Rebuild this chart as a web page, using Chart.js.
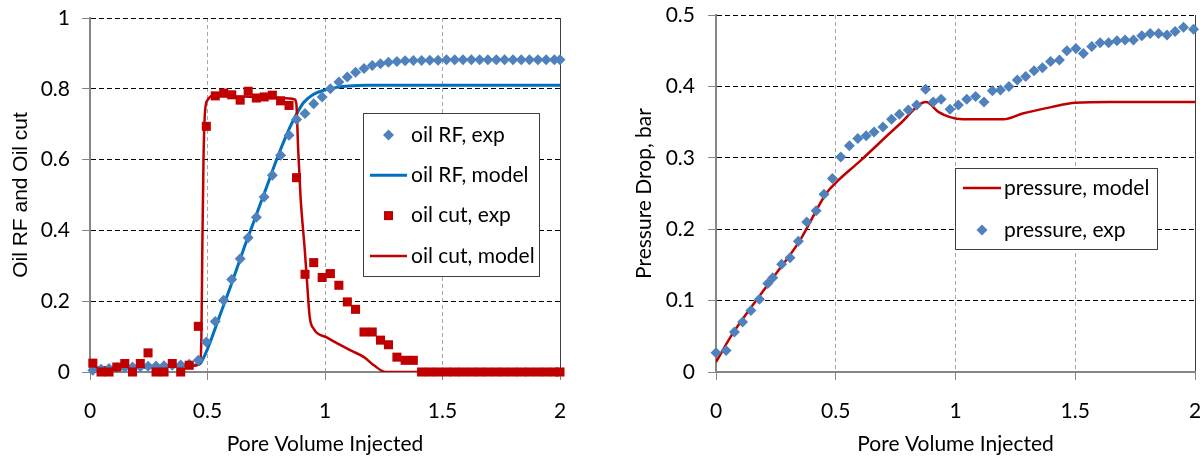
<!DOCTYPE html>
<html>
<head>
<meta charset="utf-8">
<script src="https://cdn.jsdelivr.net/npm/chart.js@4.4.1/dist/chart.umd.min.js"></script>
<style>
  html, body { margin: 0; padding: 0; background: #fff; }
  #wrap { position: relative; width: 1203px; height: 457px; overflow: hidden; }
  canvas { position: absolute; top: 0; }
  #left { left: 0; }
  #right { left: 600px; }
</style>
</head>
<body>
<div id="wrap">
  <canvas id="left" width="600" height="457"></canvas>
  <canvas id="right" width="603" height="457"></canvas>
</div>
<script>
// ---- left chart: oil recovery factor and oil cut ----
const pvExp = [0.012, 0.047, 0.081, 0.114, 0.148, 0.181, 0.214, 0.247, 0.281, 0.315, 0.350, 0.386, 0.422,
  0.461, 0.495, 0.533, 0.569, 0.603, 0.639, 0.673, 0.708, 0.741, 0.776, 0.811, 0.847, 0.879,
  0.915, 0.952, 0.988, 1.023, 1.059, 1.095, 1.130, 1.166, 1.201, 1.236, 1.270, 1.306, 1.341, 1.376,
  1.411, 1.446, 1.481, 1.517, 1.552, 1.587, 1.623, 1.658, 1.693, 1.729, 1.764, 1.800, 1.835, 1.870, 1.906, 1.941, 1.976, 2.000];
const rfExp = [0.005, 0.008, 0.010, 0.012, 0.013, 0.014, 0.015, 0.016, 0.017, 0.018, 0.019, 0.020, 0.022,
  0.033, 0.085, 0.143, 0.203, 0.261, 0.320, 0.379, 0.437, 0.494, 0.556, 0.612, 0.669, 0.713,
  0.730, 0.758, 0.777, 0.800, 0.819, 0.833, 0.847, 0.857, 0.866, 0.871, 0.875, 0.877, 0.879, 0.880,
  0.880, 0.881, 0.881, 0.882, 0.882, 0.882, 0.882, 0.882, 0.882, 0.882, 0.882, 0.882, 0.882, 0.882, 0.882, 0.882, 0.882, 0.882];
const cutExp = [0.025, 0.0, 0.0, 0.014, 0.024, 0.0, 0.024, 0.054, 0.0, 0.0, 0.024, 0.0, 0.019,
  0.129, 0.694, 0.780, 0.788, 0.783, 0.768, 0.793, 0.774, 0.777, 0.782, 0.766, 0.753, 0.549,
  0.276, 0.309, 0.267, 0.278, 0.245, 0.198, 0.177, 0.113, 0.113, 0.090, 0.077, 0.042, 0.033, 0.033,
  0, 0, 0, 0, 0, 0, 0, 0, 0, 0, 0, 0, 0, 0, 0, 0, 0, 0];

const pvRfModel = [0, 0.1, 0.2, 0.3, 0.4, 0.45, 0.47, 0.49, 0.5, 0.55, 0.6, 0.65, 0.7, 0.75, 0.8, 0.85,
  0.88, 0.91, 0.95, 1.0, 1.05, 1.1, 1.18, 1.5, 2.0];
const rfModel = [0.0, 0.008, 0.012, 0.015, 0.018, 0.02, 0.025, 0.05, 0.065, 0.155, 0.245, 0.34, 0.43, 0.52, 0.61, 0.69,
  0.73, 0.762, 0.784, 0.797, 0.804, 0.808, 0.81, 0.81, 0.81];

const pvCutModel = [0, 0.2, 0.44, 0.468, 0.474, 0.478, 0.483, 0.49, 0.5, 0.52, 0.7, 0.86, 0.87, 0.878,
  0.886, 0.896, 0.914, 0.924, 0.935, 0.952, 1.009, 1.109, 1.166, 1.208, 1.258, 2.0];
const cutModel = [0.012, 0.015, 0.018, 0.025, 0.1, 0.35, 0.6, 0.74, 0.768, 0.78, 0.777, 0.772, 0.77, 0.758,
  0.626, 0.494, 0.344, 0.25, 0.155, 0.122, 0.097, 0.061, 0.042, 0.019, 0, 0];

// ---- right chart: pressure drop ----
const pvPress = [0.0, 0.042, 0.077, 0.111, 0.146, 0.181, 0.216, 0.237, 0.274, 0.309,
  0.344, 0.379, 0.418, 0.451, 0.486, 0.521, 0.557, 0.592, 0.627, 0.660,
  0.697, 0.733, 0.766, 0.803, 0.838, 0.875, 0.907, 0.940, 0.977, 1.012,
  1.047, 1.084, 1.119, 1.154, 1.188, 1.223, 1.258, 1.293, 1.328, 1.363,
  1.397, 1.434, 1.465, 1.503, 1.534, 1.569, 1.604, 1.639, 1.674, 1.708,
  1.743, 1.778, 1.813, 1.848, 1.883, 1.917, 1.952, 1.994];
const pressExp = [0.027, 0.030, 0.056, 0.070, 0.086, 0.102, 0.124, 0.132, 0.151, 0.160,
  0.183, 0.210, 0.226, 0.249, 0.271, 0.301, 0.317, 0.327, 0.331, 0.336,
  0.343, 0.354, 0.361, 0.367, 0.374, 0.396, 0.378, 0.382, 0.368, 0.374,
  0.382, 0.386, 0.378, 0.394, 0.395, 0.400, 0.409, 0.414, 0.422, 0.426,
  0.435, 0.437, 0.450, 0.453, 0.446, 0.456, 0.461, 0.461, 0.464, 0.465,
  0.465, 0.471, 0.474, 0.474, 0.472, 0.477, 0.483, 0.480];

const pvPressModel = [0, 0.07, 0.24, 0.35, 0.46, 0.5, 0.6, 0.77, 0.877, 0.93, 0.977, 1.03, 1.2, 1.28, 1.4, 1.5, 1.65, 2.0];
const pressModel = [0.014, 0.054, 0.133, 0.184, 0.25, 0.265, 0.295, 0.348, 0.378, 0.364, 0.357, 0.354, 0.354, 0.362, 0.371, 0.377, 0.378, 0.378];

const RED = '#C00000';
const DIAMOND = '#4F81BD';
const BLUE = '#0070C0';
const FONT = 'Lato, "Open Sans", sans-serif';
const FS = 21;

Chart.defaults.font.family = FONT;
Chart.defaults.color = '#000';

const pts = (xs, ys) => xs.map((x, i) => ({ x: x, y: ys[i] }));
// 0.5 -> "0.5", 1 -> "1" (no padded decimals)
const plain = v => String(Number(v.toFixed(3)));

// boxed legend drawn inside the plot, like the spreadsheet original
const boxLegend = {
  id: 'boxLegend',
  afterDraw(chart, args, opts) {
    const ctx = chart.ctx;
    const b = opts.box;
    ctx.save();
    ctx.fillStyle = '#fff';
    ctx.fillRect(b[0], b[1], b[2], b[3]);
    ctx.strokeStyle = '#404040';
    ctx.lineWidth = 1;
    ctx.strokeRect(b[0] + 0.5, b[1] + 0.5, b[2], b[3]);
    ctx.font = FS + 'px ' + FONT;
    ctx.textBaseline = 'middle';
    opts.items.forEach((idx, i) => {
      const ds = chart.data.datasets[idx];
      const y = b[1] + opts.first + i * opts.step;
      const cx = (opts.sym[0] + opts.sym[1]) / 2;
      if (ds.showLine) {
        ctx.strokeStyle = ds.borderColor;
        ctx.lineWidth = ds.borderWidth;
        ctx.beginPath();
        ctx.moveTo(opts.sym[0], y);
        ctx.lineTo(opts.sym[1], y);
        ctx.stroke();
      } else if (ds.pointStyle === 'rectRot') {
        const r = ds.pointRadius;
        ctx.fillStyle = ds.backgroundColor;
        ctx.beginPath();
        ctx.moveTo(cx - r, y); ctx.lineTo(cx, y - r); ctx.lineTo(cx + r, y); ctx.lineTo(cx, y + r);
        ctx.closePath();
        ctx.fill();
      } else {
        const s = ds.pointRadius * Math.SQRT1_2;
        ctx.fillStyle = ds.backgroundColor;
        ctx.fillRect(cx - s, y - s, 2 * s, 2 * s);
      }
      ctx.fillStyle = '#000';
      ctx.fillText(ds.label, opts.textX, y);
    });
    ctx.restore();
  }
};

function xAxis() {
  return {
    type: 'linear', min: 0, max: 2,
    ticks: { stepSize: 0.5, padding: 19, font: { size: FS }, callback: plain },
    grid: {
      color: c => c.tick.value === 0 ? 'rgba(0,0,0,0)' : (c.tick.value === 2 ? '#404040' : '#a6a6a6'),
      tickColor: '#868686', tickLength: 8, lineWidth: 1
    },
    border: { color: '#868686', width: 2, dash: c => (c.tick && c.tick.value > 0 && c.tick.value < 2) ? [4, 3] : [] },
    title: { display: true, text: 'Pore Volume Injected', font: { size: FS }, padding: { top: 0, bottom: 0 } },
    // fixed axis band, and no extra side padding from the end labels
    afterFit: s => { s.height = 85; s.paddingLeft = 0; s.paddingRight = 0; }
  };
}

function yAxis(max, step, title, titleFont, width, tickPad, titlePad) {
  return {
    type: 'linear', min: 0, max: max,
    ticks: { stepSize: step, padding: tickPad, font: { size: FS }, callback: plain },
    grid: {
      color: c => c.tick.value === 0 ? 'rgba(0,0,0,0)' : '#000',
      tickColor: '#868686', tickLength: 8, lineWidth: 1
    },
    border: { color: '#868686', width: 2, dash: c => c.tick ? [5, 3] : [] },
    title: { display: true, text: title, font: titleFont, padding: { top: titlePad, bottom: 0 } },
    afterFit: s => { s.width = width; s.paddingTop = 0; s.paddingBottom = 0; }
  };
}

new Chart(document.getElementById('left'), {
  type: 'scatter',
  data: {
    datasets: [
      { label: 'oil cut, exp', data: pts(pvExp, cutExp), showLine: false, pointStyle: 'rect', pointRadius: 6.4,
        backgroundColor: RED, borderColor: RED, pointBorderWidth: 0, clip: false },
      { label: 'oil RF, exp', data: pts(pvExp, rfExp), showLine: false, pointStyle: 'rectRot', pointRadius: 5.5,
        backgroundColor: DIAMOND, borderColor: DIAMOND, pointBorderWidth: 0, clip: false },
      { label: 'oil cut, model', data: pts(pvCutModel, cutModel), showLine: true, borderColor: RED, borderWidth: 2.5,
        pointRadius: 0, cubicInterpolationMode: 'monotone' },
      { label: 'oil RF, model', data: pts(pvRfModel, rfModel), showLine: true, borderColor: BLUE, borderWidth: 3,
        pointRadius: 0, cubicInterpolationMode: 'monotone' }
    ]
  },
  options: {
    responsive: false, animation: false, events: [],
    layout: { padding: { left: 0, right: 40, top: 18, bottom: 0 } },
    plugins: {
      legend: { display: false }, tooltip: { enabled: false },
      boxLegend: { box: [363, 113, 176, 163], first: 22, step: 40.3, sym: [370, 407], textX: 411, items: [1, 3, 0, 2] }
    },
    scales: {
      x: xAxis(),
      y: yAxis(1, 0.2, 'Oil RF and Oil cut', { family: '"Liberation Sans", Arial, sans-serif', size: 21 }, 90, 12, 9)
    }
  },
  plugins: [boxLegend]
});

new Chart(document.getElementById('right'), {
  type: 'scatter',
  data: {
    datasets: [
      { label: 'pressure, exp', data: pts(pvPress, pressExp), showLine: false, pointStyle: 'rectRot', pointRadius: 5.5,
        backgroundColor: DIAMOND, borderColor: DIAMOND, pointBorderWidth: 0, clip: false },
      { label: 'pressure, model', data: pts(pvPressModel, pressModel), showLine: true, borderColor: RED, borderWidth: 2.5,
        pointRadius: 0, cubicInterpolationMode: 'monotone' }
    ]
  },
  options: {
    responsive: false, animation: false, events: [],
    layout: { padding: { left: 0, right: 8, top: 15, bottom: 0 } },
    plugins: {
      legend: { display: false }, tooltip: { enabled: false },
      boxLegend: { box: [355, 168, 202, 81], first: 20, step: 42, sym: [363, 401], textX: 404, items: [1, 0] }
    },
    scales: {
      x: xAxis(),
      y: yAxis(0.5, 0.1, 'Pressure Drop, bar', { size: FS }, 116, 13, 32)
    }
  },
  plugins: [boxLegend]
});
</script>
</body>
</html>
